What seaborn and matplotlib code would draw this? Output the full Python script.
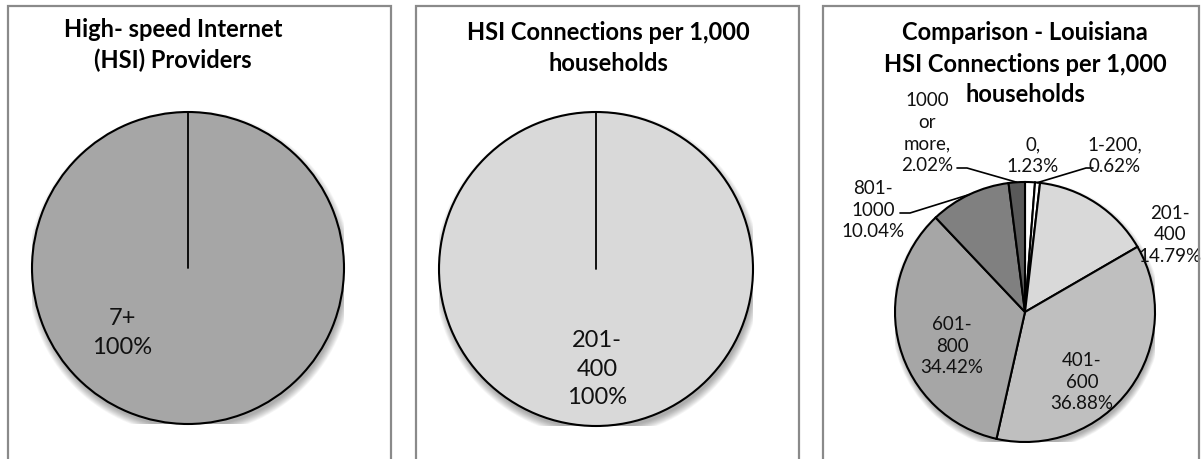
import matplotlib
matplotlib.use("Agg")
import matplotlib.pyplot as plt
import seaborn as sns
import numpy as np
from matplotlib.patches import Rectangle, Circle

# ---------------- data ----------------
providers_cats = ["7+"]
providers_vals = [100.0]

conn_cats = ["201-400"]
conn_vals = [100.0]

la_cats = ["0", "1-200", "201-400", "401-600", "601-800", "801-1000", "1000 or more"]
la_vals = [1.23, 0.62, 14.79, 36.88, 34.42, 10.04, 2.02]

titles = ["High- speed Internet\n(HSI) Providers",
          "HSI Connections per 1,000\nhouseholds",
          "Comparison - Louisiana\nHSI Connections per 1,000\nhouseholds"]

# ---------------- style ----------------
sns.set_theme(style="white")
plt.rcParams["font.family"] = ["Lato", "DejaVu Sans"]

W, H = 1203, 459
fig = plt.figure(figsize=(W / 100, H / 100), dpi=100)
fig.patch.set_facecolor("white")

BORDER = "#8a8a8a"
for x0, x1 in [(8, 391), (416, 799), (823, 1199)]:
    fig.add_artist(Rectangle((x0 / W, (H - 480) / H), (x1 - x0) / W, (480 - 6) / H,
                             transform=fig.transFigure, fill=False,
                             edgecolor=BORDER, linewidth=1.6))


def pie_axes(cx, cy, R):
    return fig.add_axes([(cx - R) / W, (H - cy - R) / H, 2 * R / W, 2 * R / H])


def finish(ax):
    ax.set_xlim(-1, 1)
    ax.set_ylim(-1, 1)
    ax.set_axis_off()


def shadow(ax):
    for k in range(10):
        ax.add_patch(Circle((0.01, -0.03), 0.995 + 0.005 * k, facecolor="black",
                            alpha=0.035, edgecolor="none", zorder=0))


def to_ax(px, py, cx, cy, R):
    return (px - cx) / R, (cy - py) / R


wprops = dict(edgecolor="black", linewidth=1.5)

# ---------------- panel 1 ----------------
cx, cy, R = 188, 268, 156
ax1 = pie_axes(cx, cy, R)
shadow(ax1)
ax1.pie(providers_vals, colors=["#a6a6a6"], startangle=90, counterclock=False,
        radius=1, wedgeprops=wprops)
ax1.plot([0, 0], [0, 1], color="black", lw=1.3, zorder=5)
lx, ly = to_ax(122, 333, cx, cy, R)
ax1.text(lx, ly, f"{providers_cats[0]}\n{providers_vals[0]:.0f}%", ha="center", va="center",
         fontsize=17, linespacing=1.45, color="#111111")
finish(ax1)

# ---------------- panel 2 ----------------
cx, cy, R = 596, 269, 157
ax2 = pie_axes(cx, cy, R)
shadow(ax2)
ax2.pie(conn_vals, colors=["#d9d9d9"], startangle=90, counterclock=False,
        radius=1, wedgeprops=wprops)
ax2.plot([0, 0], [0, 1], color="black", lw=1.3, zorder=5)
lx, ly = to_ax(597, 369, cx, cy, R)
ax2.text(lx, ly, conn_cats[0].replace("-", "-\n") + f"\n{conn_vals[0]:.0f}%",
         ha="center", va="center", fontsize=17, linespacing=1.45, color="#111111")
finish(ax2)

# ---------------- panel 3 ----------------
cx, cy, R = 1025, 312, 130
ax3 = pie_axes(cx, cy, R)
shadow(ax3)
la_colors = ["#ffffff", "#ffffff", "#d9d9d9", "#bfbfbf", "#a6a6a6", "#808080", "#595959"]
wedges, _ = ax3.pie(la_vals, colors=la_colors, startangle=90, counterclock=False,
                    radius=1, wedgeprops=wprops)

label_text = {
    "0": "0,\n{v}%",
    "1-200": "1-200,\n{v}%",
    "201-400": "201-\n400\n{v}%",
    "401-600": "401-\n600\n{v}%",
    "601-800": "601-\n800\n{v}%",
    "801-1000": "801-\n1000\n{v}%",
    "1000 or more": "1000\nor\nmore,\n{v}%",
}
label_px = {
    "0": (1033, 156),
    "1-200": (1115, 156),
    "201-400": (1170, 235),
    "401-600": (1082, 382),
    "601-800": (952, 346),
    "801-1000": (873, 210),
    "1000 or more": (927, 133),
}
leaders = {
    "1000 or more": [(957, 168), (967, 168)],
    "1-200": [(1093, 168), (1086, 168)],
    "801-1000": [(900, 213), (910, 213)],
}
for w, cat, v in zip(wedges, la_cats, la_vals):
    lx, ly = to_ax(*label_px[cat], cx, cy, R)
    ax3.text(lx, ly, label_text[cat].format(v=f"{v:.2f}"), ha="center", va="center",
             fontsize=13.5, linespacing=1.32, color="#111111", zorder=6)
    if cat in leaders:
        mid = np.deg2rad((w.theta1 + w.theta2) / 2)
        ex, ey = np.cos(mid), np.sin(mid)
        pts = [to_ax(px, py, cx, cy, R) for px, py in leaders[cat]]
        xs = [p[0] for p in pts] + [ex]
        ys = [p[1] for p in pts] + [ey]
        ax3.plot(xs, ys, color="black", lw=1.2, zorder=5, clip_on=False)
finish(ax3)

# ---------------- titles ----------------
fig.text(173 / W, 1 - 45 / H, titles[0], ha="center", va="center", fontsize=17,
         fontweight="bold", linespacing=1.41, color="black")
fig.text(608 / W, 1 - 48 / H, titles[1], ha="center", va="center", fontsize=17,
         fontweight="bold", linespacing=1.4, color="black")
# right title: one text per line so each line keeps its own extent
for line, ypx in zip(titles[2].split("\n"), [33, 64, 95]):
    fig.text(1025 / W, 1 - ypx / H, line, ha="center", va="center", fontsize=17,
             fontweight="bold", color="black")

fig.savefig("out.png", dpi=100, facecolor="white")
